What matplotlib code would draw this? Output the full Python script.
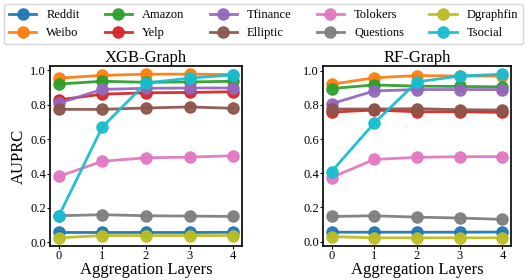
import matplotlib.pyplot as plt

plt.rcParams['font.family'] = ['Liberation Serif', 'DejaVu Serif']

layers = [0, 1, 2, 3, 4]
names = ['Reddit', 'Weibo', 'Amazon', 'Yelp', 'Tfinance',
         'Elliptic', 'Tolokers', 'Questions', 'Dgraphfin', 'Tsocial']
colors = ['tab:blue', 'tab:orange', 'tab:green', 'tab:red', 'tab:purple',
          'tab:brown', 'tab:pink', 'tab:gray', 'tab:olive', 'tab:cyan']

xgb = {
    'Reddit':    [0.058, 0.058, 0.058, 0.058, 0.059],
    'Weibo':     [0.953, 0.969, 0.976, 0.976, 0.974],
    'Amazon':    [0.919, 0.935, 0.929, 0.931, 0.935],
    'Yelp':      [0.827, 0.860, 0.868, 0.870, 0.874],
    'Tfinance':  [0.807, 0.888, 0.894, 0.896, 0.896],
    'Elliptic':  [0.772, 0.772, 0.780, 0.786, 0.778],
    'Tolokers':  [0.383, 0.471, 0.491, 0.495, 0.503],
    'Questions': [0.155, 0.161, 0.155, 0.153, 0.151],
    'Dgraphfin': [0.027, 0.040, 0.040, 0.040, 0.040],
    'Tsocial':   [0.153, 0.670, 0.925, 0.953, 0.972],
}

rf = {
    'Reddit':    [0.055, 0.055, 0.055, 0.055, 0.056],
    'Weibo':     [0.921, 0.959, 0.972, 0.969, 0.969],
    'Amazon':    [0.896, 0.917, 0.910, 0.908, 0.906],
    'Yelp':      [0.758, 0.770, 0.760, 0.760, 0.756],
    'Tfinance':  [0.807, 0.882, 0.890, 0.890, 0.890],
    'Elliptic':  [0.776, 0.776, 0.778, 0.772, 0.770],
    'Tolokers':  [0.375, 0.481, 0.493, 0.497, 0.497],
    'Questions': [0.147, 0.151, 0.143, 0.138, 0.130],
    'Dgraphfin': [0.029, 0.022, 0.022, 0.022, 0.022],
    'Tsocial':   [0.410, 0.694, 0.935, 0.969, 0.980],
}

fig = plt.figure(figsize=(5.27, 2.80), dpi=100)
ax1 = fig.add_axes([50/527, 34/280, 192/527, 180/280])
ax2 = fig.add_axes([323/527, 34/280, 188/527, 180/280])

for ax, data, title in [(ax1, xgb, 'XGB-Graph'), (ax2, rf, 'RF-Graph')]:
    for name, c in zip(names, colors):
        ax.plot(layers, data[name], marker='o', markersize=8, linewidth=2,
                color=c, label=name, alpha=0.95)
    ax.set_title(title, fontsize=12, pad=2)
    ax.set_xlabel('Aggregation Layers', fontsize=12, labelpad=0)
    ax.set_xticks(layers)
    ax.set_yticks([0.0, 0.2, 0.4, 0.6, 0.8, 1.0])
    ax.tick_params(labelsize=9, length=2, width=0.8, pad=1)
    for s in ax.spines.values():
        s.set_linewidth(1.2)
        s.set_color('black')

ax1.set_ylabel('AUPRC', fontsize=12, labelpad=2)

handles, labels = ax1.get_legend_handles_labels()
fig.legend(handles, labels, ncol=5, loc='upper center',
           bbox_to_anchor=(0.5, 0.995), fontsize=9, frameon=True,
           handlelength=2.2, columnspacing=2.0, handletextpad=0.8,
           labelspacing=0.5, borderpad=0.4, borderaxespad=0.2,
           fancybox=True)

fig.savefig('out.png', dpi=100)
